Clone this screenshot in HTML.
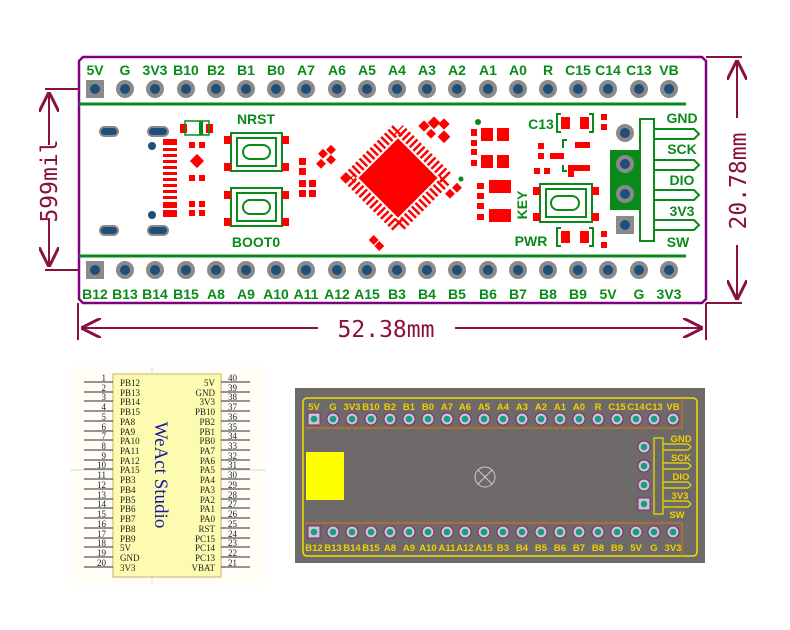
<!DOCTYPE html>
<html><head><meta charset="utf-8"><style>
html,body{margin:0;padding:0;background:#fff;width:790px;height:630px;overflow:hidden}
svg{display:block}
.g{font-family:"Liberation Sans",sans-serif;font-weight:bold;font-size:14px;fill:#0a8a1a;text-anchor:middle}
.y{font-family:"Liberation Sans",sans-serif;font-weight:bold;font-size:9.5px;fill:#f0d000;text-anchor:middle}
.s{font-family:"Liberation Serif",serif;font-size:9px;fill:#222}
.d{font-family:"DejaVu Sans Mono","Liberation Mono",monospace;font-size:23px;fill:#8a1040;text-anchor:middle}
</style></head><body>
<svg width="790" height="630" viewBox="0 0 790 630" xmlns="http://www.w3.org/2000/svg">
<defs>
<g id="p"><circle r="9" fill="#8a8a8a"/><circle r="5" fill="#1f4e79"/></g>
<g id="ps"><rect x="-9" y="-9" width="18" height="18" fill="#8a8a8a"/><circle r="5" fill="#1f4e79"/></g>
<g id="q"><circle r="6" fill="#c8c8c8" stroke="#8a2080" stroke-width="1"/><circle r="3.3" fill="#1a9a8a"/></g>
<g id="qs"><rect x="-6" y="-6" width="12" height="12" fill="#c8c8c8" stroke="#8a2080" stroke-width="1"/><circle r="3.3" fill="#1a9a8a"/></g>
<marker id="ar" viewBox="0 0 10 10" refX="10" refY="5" markerWidth="10" markerHeight="10" orient="auto-start-reverse"><path d="M0,0 L10,5 L0,10" fill="none" stroke="#8a1040" stroke-width="1.5"/></marker>
</defs>

<!-- top board outline -->
<path d="M83,57 L702,57 L706,61 L706,299 L702,303 L83,303 L79,299 L79,61 Z" fill="#fff" stroke="#800080" stroke-width="2.5"/>
<line x1="79" y1="104" x2="686" y2="104" stroke="#0a8a1a" stroke-width="3"/>
<line x1="79" y1="256" x2="686" y2="256" stroke="#0a8a1a" stroke-width="3"/>

<!-- dimensions -->
<g stroke="#8a1040" stroke-width="2" fill="none">
<line x1="45" y1="89" x2="79" y2="89"/><line x1="45" y1="270" x2="79" y2="270"/>
<line x1="49" y1="92" x2="49" y2="145" marker-start="url(#ar)"/><line x1="49" y1="218" x2="49" y2="267" marker-end="url(#ar)"/>
<line x1="706" y1="57" x2="742" y2="57"/><line x1="706" y1="303" x2="742" y2="303"/>
<line x1="737" y1="60" x2="737" y2="118" marker-start="url(#ar)"/><line x1="737" y1="245" x2="737" y2="300" marker-end="url(#ar)"/>
<line x1="78" y1="303" x2="78" y2="340"/><line x1="706" y1="303" x2="706" y2="340"/>
<line x1="81" y1="328" x2="318" y2="328" marker-start="url(#ar)"/><line x1="455" y1="328" x2="703" y2="328" marker-end="url(#ar)"/>
</g>
<text class="d" transform="translate(57,181) rotate(-90)">599mil</text>
<text class="d" transform="translate(746,181) rotate(-90)">20.78mm</text>
<text class="d" x="386" y="337">52.38mm</text>

<!-- top pins -->
<use href="#ps" x="95" y="89"/><use href="#p" x="125" y="89"/><use href="#p" x="155" y="89"/><use href="#p" x="186" y="89"/><use href="#p" x="216" y="89"/><use href="#p" x="246" y="89"/><use href="#p" x="276" y="89"/><use href="#p" x="306" y="89"/><use href="#p" x="337" y="89"/><use href="#p" x="367" y="89"/><use href="#p" x="397" y="89"/><use href="#p" x="427" y="89"/><use href="#p" x="457" y="89"/><use href="#p" x="488" y="89"/><use href="#p" x="518" y="89"/><use href="#p" x="548" y="89"/><use href="#p" x="578" y="89"/><use href="#p" x="608" y="89"/><use href="#p" x="639" y="89"/><use href="#p" x="669" y="89"/>
<use href="#ps" x="95" y="270"/><use href="#p" x="125" y="270"/><use href="#p" x="155" y="270"/><use href="#p" x="186" y="270"/><use href="#p" x="216" y="270"/><use href="#p" x="246" y="270"/><use href="#p" x="276" y="270"/><use href="#p" x="306" y="270"/><use href="#p" x="337" y="270"/><use href="#p" x="367" y="270"/><use href="#p" x="397" y="270"/><use href="#p" x="427" y="270"/><use href="#p" x="457" y="270"/><use href="#p" x="488" y="270"/><use href="#p" x="518" y="270"/><use href="#p" x="548" y="270"/><use href="#p" x="578" y="270"/><use href="#p" x="608" y="270"/><use href="#p" x="639" y="270"/><use href="#p" x="669" y="270"/>
<g class="g">
<text x="95" y="75">5V</text><text x="125" y="75">G</text><text x="155" y="75">3V3</text><text x="186" y="75">B10</text><text x="216" y="75">B2</text><text x="246" y="75">B1</text><text x="276" y="75">B0</text><text x="306" y="75">A7</text><text x="337" y="75">A6</text><text x="367" y="75">A5</text><text x="397" y="75">A4</text><text x="427" y="75">A3</text><text x="457" y="75">A2</text><text x="488" y="75">A1</text><text x="518" y="75">A0</text><text x="548" y="75">R</text><text x="578" y="75">C15</text><text x="608" y="75">C14</text><text x="639" y="75">C13</text><text x="669" y="75">VB</text>
<text x="95" y="299">B12</text><text x="125" y="299">B13</text><text x="155" y="299">B14</text><text x="186" y="299">B15</text><text x="216" y="299">A8</text><text x="246" y="299">A9</text><text x="276" y="299">A10</text><text x="306" y="299">A11</text><text x="337" y="299">A12</text><text x="367" y="299">A15</text><text x="397" y="299">B3</text><text x="427" y="299">B4</text><text x="457" y="299">B5</text><text x="488" y="299">B6</text><text x="518" y="299">B7</text><text x="548" y="299">B8</text><text x="578" y="299">B9</text><text x="608" y="299">5V</text><text x="639" y="299">G</text><text x="669" y="299">3V3</text>
<text x="256" y="124">NRST</text><text x="256" y="247">BOOT0</text><text x="541" y="129">C13</text><text x="531" y="246">PWR</text>
<text transform="translate(527,205) rotate(-90)">KEY</text>
<text x="682" y="123">GND</text><text x="682" y="154">SCK</text><text x="682" y="185">DIO</text><text x="682" y="216">3V3</text><text x="678" y="247">SW</text>
</g>

<!-- USB area -->
<g fill="#1f4e79" stroke="#8a8a8a" stroke-width="2">
<rect x="100" y="127" width="18" height="9" rx="4.5"/><rect x="148" y="127" width="20" height="9" rx="4.5"/>
<rect x="100" y="226" width="18" height="9" rx="4.5"/><rect x="148" y="226" width="20" height="9" rx="4.5"/>
</g>
<circle cx="152" cy="146" r="4" fill="#1f4e79"/><circle cx="152" cy="215" r="4" fill="#1f4e79"/>
<g fill="#f00">
<rect x="163" y="139" width="14" height="6"/><rect x="163" y="148" width="14" height="3"/><rect x="163" y="154" width="14" height="3"/><rect x="163" y="160" width="14" height="3"/><rect x="163" y="166" width="14" height="3"/><rect x="163" y="172" width="14" height="3"/><rect x="163" y="178" width="14" height="3"/><rect x="163" y="184" width="14" height="3"/><rect x="163" y="190" width="14" height="3"/><rect x="163" y="196" width="14" height="3"/><rect x="163" y="202" width="14" height="6"/><rect x="163" y="210" width="14" height="7"/>
<rect x="180" y="124" width="7" height="9"/><rect x="206" y="124" width="7" height="9"/>
<rect x="189" y="142" width="6" height="6"/><rect x="199" y="142" width="6" height="6"/><rect x="189" y="175" width="6" height="6"/><rect x="199" y="175" width="6" height="6"/>
<rect x="189" y="201" width="6" height="6"/><rect x="199" y="201" width="6" height="6"/><rect x="189" y="210" width="6" height="6"/><rect x="199" y="210" width="6" height="6"/>
<rect x="192" y="156" width="10" height="10" transform="rotate(45 197 161)"/>
</g>
<rect x="185" y="121" width="24" height="14" fill="none" stroke="#0a8a1a" stroke-width="1.5"/><rect x="199" y="121" width="4" height="14" fill="#0a8a1a"/>

<!-- buttons -->
<g fill="none" stroke="#0a8a1a" stroke-width="2">
<rect x="231" y="133" width="51" height="38"/><rect x="237" y="138" width="39" height="28"/><rect x="243" y="145" width="27" height="14" rx="7"/>
<rect x="231" y="188" width="51" height="38"/><rect x="237" y="193" width="39" height="28"/><rect x="243" y="200" width="27" height="14" rx="7"/>
<rect x="540" y="184" width="52" height="38"/><rect x="546" y="189" width="40" height="28"/><rect x="551" y="196" width="28" height="14" rx="7"/>
</g>
<g fill="#f00">
<rect x="224" y="136" width="7" height="8"/><rect x="282" y="136" width="7" height="8"/><rect x="224" y="163" width="7" height="8"/><rect x="282" y="163" width="7" height="8"/>
<rect x="224" y="191" width="7" height="8"/><rect x="282" y="191" width="7" height="8"/><rect x="224" y="218" width="7" height="8"/><rect x="282" y="218" width="7" height="8"/>
<rect x="533" y="187" width="7" height="8"/><rect x="592" y="187" width="7" height="8"/><rect x="533" y="213" width="7" height="8"/><rect x="592" y="213" width="7" height="8"/>
<rect x="299" y="158" width="7" height="7"/><rect x="299" y="168" width="7" height="7"/><rect x="299" y="180" width="7" height="7"/><rect x="309" y="180" width="7" height="7"/><rect x="299" y="190" width="7" height="7"/><rect x="309" y="190" width="7" height="7"/>
</g>

<!-- MCU -->
<g transform="rotate(45 398 178)">
<rect x="364" y="144" width="68" height="68" fill="none" stroke="#f00" stroke-width="14" stroke-dasharray="2.5 2.6" stroke-dashoffset="-4"/>
<rect x="368" y="148" width="60" height="60" fill="#fff"/>
<rect x="370" y="150" width="56" height="56" fill="#f00"/>
</g>
<g fill="#f00">
<rect x="320" y="150" width="7" height="7" transform="rotate(45 323 153)"/><rect x="328" y="146" width="7" height="7" transform="rotate(45 331 149)"/><rect x="328" y="156" width="7" height="7" transform="rotate(45 331 159)"/><rect x="318" y="160" width="7" height="7" transform="rotate(45 321 163)"/>
<rect x="420" y="122" width="8" height="8" transform="rotate(45 424 126)"/><rect x="430" y="118" width="9" height="9" transform="rotate(45 434 122)"/><rect x="440" y="120" width="8" height="8" transform="rotate(45 444 124)"/><rect x="428" y="130" width="7" height="7" transform="rotate(45 431 133)"/><rect x="440" y="132" width="9" height="9" transform="rotate(45 444 136)"/>
<rect x="370" y="236" width="7" height="7" transform="rotate(45 373 240)"/><rect x="376" y="243" width="7" height="7" transform="rotate(45 380 246)"/>
<rect x="447" y="190" width="7" height="7" transform="rotate(45 450 193)"/><rect x="454" y="184" width="7" height="7" transform="rotate(45 457 187)"/>
<rect x="471" y="129" width="6" height="7"/><rect x="471" y="140" width="6" height="6"/><rect x="471" y="149" width="6" height="6"/><rect x="471" y="160" width="6" height="6"/>
<rect x="481" y="128" width="12" height="13"/><rect x="497" y="128" width="12" height="13"/><rect x="481" y="155" width="12" height="13"/><rect x="497" y="155" width="12" height="13"/>
<rect x="477" y="183" width="7" height="6"/><rect x="477" y="193" width="7" height="6"/><rect x="477" y="203" width="7" height="6"/><rect x="477" y="214" width="7" height="6"/>
<rect x="489" y="180" width="22" height="13"/><rect x="489" y="209" width="22" height="13"/>
<rect x="538" y="143" width="6" height="6"/><rect x="538" y="153" width="6" height="6"/><rect x="550" y="153" width="14" height="6"/><rect x="575" y="142" width="15" height="6"/>
<rect x="534" y="168" width="6" height="6"/><rect x="544" y="168" width="6" height="6"/><rect x="568" y="165" width="22" height="6"/><rect x="568" y="171" width="6" height="6"/>
<rect x="561" y="117" width="9" height="12"/><rect x="580" y="117" width="9" height="12"/><rect x="601" y="114" width="6" height="6"/><rect x="601" y="124" width="6" height="6"/>
<rect x="561" y="231" width="9" height="12"/><rect x="580" y="231" width="9" height="12"/><rect x="601" y="231" width="6" height="6"/><rect x="601" y="242" width="6" height="6"/>
</g>
<circle cx="478" cy="122" r="3" fill="#0a8a1a"/><circle cx="461" cy="179" r="2.5" fill="#0a8a1a"/>
<g fill="none" stroke="#0a8a1a" stroke-width="2">
<path d="M561,114 h-4 v18 h4 M589,114 h4 v18 h-4"/><path d="M561,228 h-4 v18 h4 M589,228 h4 v18 h-4"/>
<path d="M563,148 v-8 h4 M563,165 v6 h4"/>
</g>

<!-- SWD connector -->
<rect x="610" y="150" width="30" height="60" fill="#0a8a1a"/>
<circle cx="625" cy="133" r="9" fill="#8a8a8a"/><circle cx="625" cy="133" r="5" fill="#1f4e79"/>
<circle cx="625" cy="164" r="9" fill="#8a8a8a"/><circle cx="625" cy="164" r="5" fill="#1f4e79"/>
<circle cx="625" cy="194" r="9" fill="#8a8a8a"/><circle cx="625" cy="194" r="5" fill="#1f4e79"/>
<rect x="616" y="216" width="18" height="18" fill="#8a8a8a"/><circle cx="625" cy="225" r="5" fill="#1f4e79"/>
<rect x="640" y="119" width="14" height="122" fill="#fff" stroke="#0a8a1a" stroke-width="2"/>
<g fill="none" stroke="#0a8a1a" stroke-width="2">
<path d="M654,129 h40 l5,5 l-5,5 h-40"/><path d="M654,160 h40 l5,5 l-5,5 h-40"/><path d="M654,190 h40 l5,5 l-5,5 h-40"/><path d="M654,220 h40 l5,5 l-5,5 h-40"/>
</g>

<!-- schematic -->
<rect x="70" y="367" width="196" height="218" fill="#fffdf6"/>
<line x1="70" y1="470" x2="266" y2="470" stroke="#ccc" stroke-width="0.7"/><line x1="152" y1="367" x2="152" y2="585" stroke="#ccc" stroke-width="0.7"/>
<rect x="113" y="374" width="108" height="203" fill="#fdfbb0" stroke="#c8b070" stroke-width="1"/>
<g stroke="#555" stroke-width="1.3">
<path d="M84,382h29M84,392h29M84,401h29M84,411h29M84,421h29M84,431h29M84,440h29M84,450h29M84,460h29M84,469h29M84,479h29M84,489h29M84,499h29M84,508h29M84,518h29M84,528h29M84,538h29M84,547h29M84,557h29M84,567h29"/>
<path d="M221,382h29M221,392h29M221,401h29M221,411h29M221,421h29M221,431h29M221,440h29M221,450h29M221,460h29M221,469h29M221,479h29M221,489h29M221,499h29M221,508h29M221,518h29M221,528h29M221,538h29M221,547h29M221,557h29M221,567h29"/>
</g>
<g class="s" text-anchor="end">
<text x="106" y="381">1</text><text x="106" y="391">2</text><text x="106" y="400">3</text><text x="106" y="410">4</text><text x="106" y="420">5</text><text x="106" y="430">6</text><text x="106" y="439">7</text><text x="106" y="449">8</text><text x="106" y="459">9</text><text x="106" y="468">10</text><text x="106" y="478">11</text><text x="106" y="488">12</text><text x="106" y="498">13</text><text x="106" y="507">14</text><text x="106" y="517">15</text><text x="106" y="527">16</text><text x="106" y="537">17</text><text x="106" y="546">18</text><text x="106" y="556">19</text><text x="106" y="566">20</text>
<text x="215" y="386">5V</text><text x="215" y="396">GND</text><text x="215" y="405">3V3</text><text x="215" y="415">PB10</text><text x="215" y="425">PB2</text><text x="215" y="435">PB1</text><text x="215" y="444">PB0</text><text x="215" y="454">PA7</text><text x="215" y="464">PA6</text><text x="215" y="473">PA5</text><text x="215" y="483">PA4</text><text x="215" y="493">PA3</text><text x="215" y="503">PA2</text><text x="215" y="512">PA1</text><text x="215" y="522">PA0</text><text x="215" y="532">RST</text><text x="215" y="542">PC15</text><text x="215" y="551">PC14</text><text x="215" y="561">PC13</text><text x="215" y="571">VBAT</text>
</g>
<g class="s">
<text x="120" y="386">PB12</text><text x="120" y="396">PB13</text><text x="120" y="405">PB14</text><text x="120" y="415">PB15</text><text x="120" y="425">PA8</text><text x="120" y="435">PA9</text><text x="120" y="444">PA10</text><text x="120" y="454">PA11</text><text x="120" y="464">PA12</text><text x="120" y="473">PA15</text><text x="120" y="483">PB3</text><text x="120" y="493">PB4</text><text x="120" y="503">PB5</text><text x="120" y="512">PB6</text><text x="120" y="522">PB7</text><text x="120" y="532">PB8</text><text x="120" y="542">PB9</text><text x="120" y="551">5V</text><text x="120" y="561">GND</text><text x="120" y="571">3V3</text>
<text x="228" y="381">40</text><text x="228" y="391">39</text><text x="228" y="400">38</text><text x="228" y="410">37</text><text x="228" y="420">36</text><text x="228" y="430">35</text><text x="228" y="439">34</text><text x="228" y="449">33</text><text x="228" y="459">32</text><text x="228" y="468">31</text><text x="228" y="478">30</text><text x="228" y="488">29</text><text x="228" y="498">28</text><text x="228" y="507">27</text><text x="228" y="517">26</text><text x="228" y="527">25</text><text x="228" y="537">24</text><text x="228" y="546">23</text><text x="228" y="556">22</text><text x="228" y="566">21</text>
</g>
<text transform="translate(155,475) rotate(90)" text-anchor="middle" style="font-family:'Liberation Serif',serif;font-size:19px;fill:#1a1aa0">WeAct Studio</text>

<!-- bottom right board -->
<rect x="295" y="388" width="410" height="175" fill="#6e6a6a"/>
<rect x="303" y="398" width="394" height="158" rx="4" fill="none" stroke="#f0e000" stroke-width="1.5"/>
<path d="M305,428 H682 V398 M305,523 H682 V556" fill="none" stroke="#e07800" stroke-width="1"/>
<rect x="306" y="452" width="38" height="48" fill="#ffff00"/>
<circle cx="485" cy="477" r="10" fill="none" stroke="#ccc" stroke-width="1"/><path d="M478,470 L492,484 M492,470 L478,484" stroke="#ccc" stroke-width="1"/>
<use href="#qs" x="314" y="419"/><use href="#q" x="333" y="419"/><use href="#q" x="352" y="419"/><use href="#q" x="371" y="419"/><use href="#q" x="390" y="419"/><use href="#q" x="409" y="419"/><use href="#q" x="428" y="419"/><use href="#q" x="447" y="419"/><use href="#q" x="465" y="419"/><use href="#q" x="484" y="419"/><use href="#q" x="503" y="419"/><use href="#q" x="522" y="419"/><use href="#q" x="541" y="419"/><use href="#q" x="560" y="419"/><use href="#q" x="579" y="419"/><use href="#q" x="598" y="419"/><use href="#q" x="617" y="419"/><use href="#q" x="636" y="419"/><use href="#q" x="654" y="419"/><use href="#q" x="673" y="419"/>
<use href="#qs" x="314" y="532"/><use href="#q" x="333" y="532"/><use href="#q" x="352" y="532"/><use href="#q" x="371" y="532"/><use href="#q" x="390" y="532"/><use href="#q" x="409" y="532"/><use href="#q" x="428" y="532"/><use href="#q" x="447" y="532"/><use href="#q" x="465" y="532"/><use href="#q" x="484" y="532"/><use href="#q" x="503" y="532"/><use href="#q" x="522" y="532"/><use href="#q" x="541" y="532"/><use href="#q" x="560" y="532"/><use href="#q" x="579" y="532"/><use href="#q" x="598" y="532"/><use href="#q" x="617" y="532"/><use href="#q" x="636" y="532"/><use href="#q" x="654" y="532"/><use href="#q" x="673" y="532"/>
<use href="#q" x="644" y="447"/><use href="#q" x="644" y="466"/><use href="#q" x="644" y="485"/><use href="#qs" x="644" y="504"/>
<rect x="654" y="438" width="9" height="76" fill="none" stroke="#f0e000" stroke-width="1.2"/>
<path d="M663,444h25l3,3l-3,3h-25M663,463h25l3,3l-3,3h-25M663,482h25l3,3l-3,3h-25M663,501h25l3,3l-3,3h-25" fill="none" stroke="#f0e000" stroke-width="1.2"/>
<g class="y">
<text x="314" y="410">5V</text><text x="333" y="410">G</text><text x="352" y="410">3V3</text><text x="371" y="410">B10</text><text x="390" y="410">B2</text><text x="409" y="410">B1</text><text x="428" y="410">B0</text><text x="447" y="410">A7</text><text x="465" y="410">A6</text><text x="484" y="410">A5</text><text x="503" y="410">A4</text><text x="522" y="410">A3</text><text x="541" y="410">A2</text><text x="560" y="410">A1</text><text x="579" y="410">A0</text><text x="598" y="410">R</text><text x="617" y="410">C15</text><text x="636" y="410">C14</text><text x="654" y="410">C13</text><text x="673" y="410">VB</text>
<text x="314" y="551">B12</text><text x="333" y="551">B13</text><text x="352" y="551">B14</text><text x="371" y="551">B15</text><text x="390" y="551">A8</text><text x="409" y="551">A9</text><text x="428" y="551">A10</text><text x="447" y="551">A11</text><text x="465" y="551">A12</text><text x="484" y="551">A15</text><text x="503" y="551">B3</text><text x="522" y="551">B4</text><text x="541" y="551">B5</text><text x="560" y="551">B6</text><text x="579" y="551">B7</text><text x="598" y="551">B8</text><text x="617" y="551">B9</text><text x="636" y="551">5V</text><text x="654" y="551">G</text><text x="673" y="551">3V3</text>
<text x="681" y="442">GND</text><text x="681" y="461">SCK</text><text x="681" y="480">DIO</text><text x="680" y="499">3V3</text><text x="677" y="518">SW</text>
</g>
</svg>
</body></html>
